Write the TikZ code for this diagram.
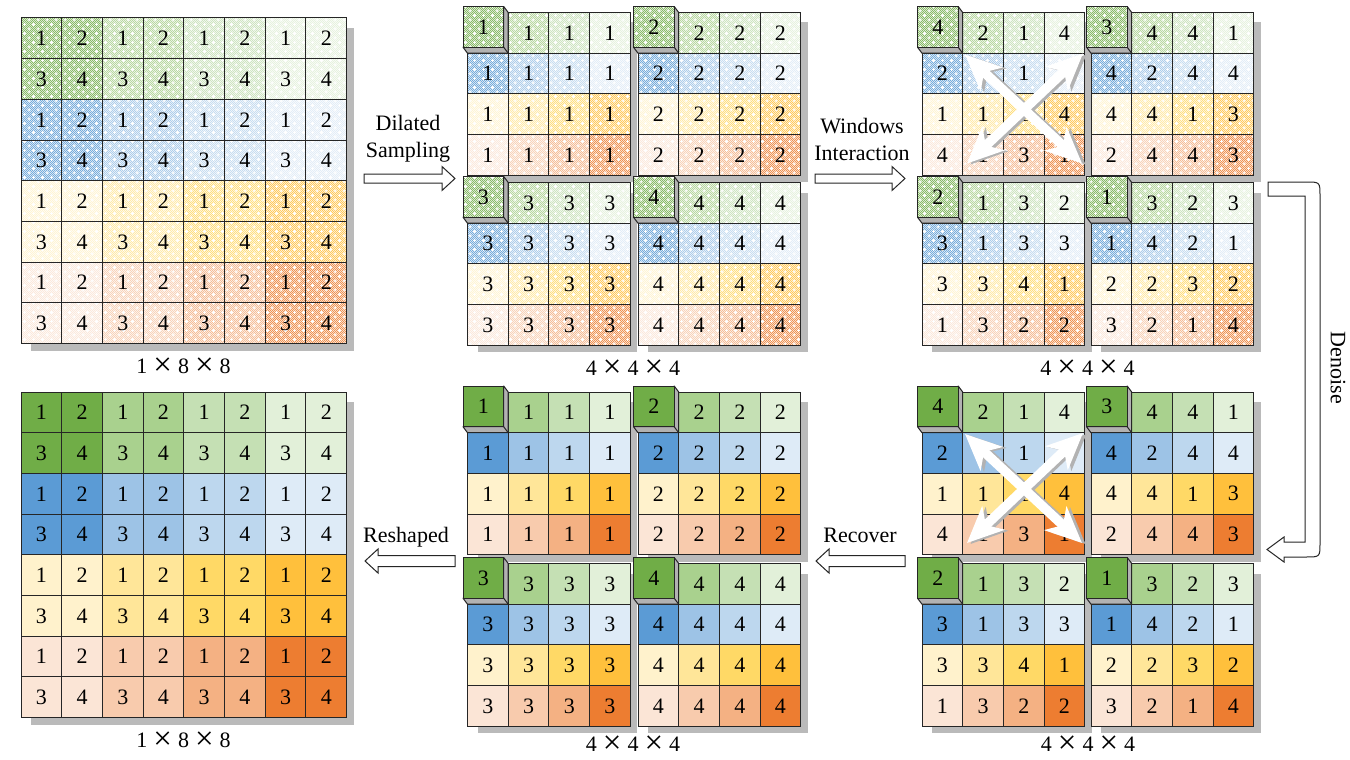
\documentclass[tikz,border=0pt]{standalone}
\usepackage{fontspec}
\setmainfont{Liberation Serif}
\usepackage{graphicx}
\usetikzlibrary{patterns,arrows.meta}

\definecolor{f1s1}{HTML}{70AD47}\definecolor{f1s2}{HTML}{A9D18E}\definecolor{f1s3}{HTML}{C5E0B4}\definecolor{f1s4}{HTML}{E2F0D9}
\definecolor{f2s1}{HTML}{5B9BD5}\definecolor{f2s2}{HTML}{9DC3E6}\definecolor{f2s3}{HTML}{BDD7EE}\definecolor{f2s4}{HTML}{DEEBF7}
\definecolor{f3s1}{HTML}{FFF2CC}\definecolor{f3s2}{HTML}{FFE699}\definecolor{f3s3}{HTML}{FFD966}\definecolor{f3s4}{HTML}{FFC03C}
\definecolor{f4s1}{HTML}{FBE5D6}\definecolor{f4s2}{HTML}{F8CBAD}\definecolor{f4s3}{HTML}{F4B183}\definecolor{f4s4}{HTML}{ED7D31}

\pgfdeclarepatternformonly{checkfine}{\pgfpoint{-0.1pt}{-0.1pt}}{\pgfpoint{2.1pt}{2.1pt}}{\pgfpoint{2pt}{2pt}}{%
  \pgfpathrectangle{\pgfpointorigin}{\pgfpoint{1pt}{1pt}}%
  \pgfpathrectangle{\pgfpoint{1pt}{1pt}}{\pgfpoint{1pt}{1pt}}%
  \pgfusepath{fill}}
\pgfdeclarepatternformonly{specks}{\pgfpoint{-0.1pt}{-0.1pt}}{\pgfpoint{9.1pt}{9.1pt}}{\pgfpoint{9pt}{9pt}}{%
  \pgfpathrectangle{\pgfpoint{0.5pt}{1.5pt}}{\pgfpoint{3pt}{1pt}}%
  \pgfpathrectangle{\pgfpoint{1.5pt}{0.5pt}}{\pgfpoint{1pt}{3pt}}%
  \pgfpathrectangle{\pgfpoint{5pt}{6pt}}{\pgfpoint{3pt}{1pt}}%
  \pgfpathrectangle{\pgfpoint{6pt}{5pt}}{\pgfpoint{1pt}{3pt}}%
  \pgfusepath{fill}}

\newcommand\cellw{40.7}
\newcommand\tms{\hspace{6pt}\raisebox{-2.8pt}{\scalebox{1.5}{×}}\hspace{6pt}}

\tikzset{
  gridline/.style={draw=black!85, line width=1pt},
  shadowbox/.style={fill=black!27},
  cubeside/.style={fill=black!30, draw=black!85, line width=1pt, line join=round},
  num/.style={font=\fontsize{22}{26}\selectfont, inner sep=0pt},
  lab/.style={font=\fontsize{22}{27}\selectfont, align=center, inner sep=0pt},
  dimlab/.style={font=\fontsize{22}{27}\selectfont, inner sep=0pt, anchor=base},
  blockarrow/.style={draw=black!85, fill=white, line width=1pt, line join=miter},
  xarr/.style={line width=9.5pt, {Stealth[length=36pt,width=32pt,inset=10pt]}-{Stealth[length=36pt,width=32pt,inset=10pt]}},
}

% noisy overlay for a cell: colour name, corner
\newcommand\noisecell[2]{%
  \fill[pattern=checkfine, pattern color=#1!25!white] #2 rectangle ++(\cellw,\cellw);
  \fill[pattern=specks, pattern color=white] #2 rectangle ++(\cellw,\cellw);}

% window: name, x, y, noisy, 16 numbers
\newcommand\win[5]{%
  \fill[shadowbox] (#2+10,#3+10) rectangle (#2+4*\cellw+7,#3+4*\cellw+7);
  \foreach \n [count=\i from 0] in {#5} {%
    \pgfmathtruncatemacro\rowi{div(\i,4)+1}%
    \pgfmathtruncatemacro\coli{mod(\i,4)+1}%
    \edef\cname{f\rowi s\coli}%
    \ifnum\i=0 \xdef\firstnum{\n}\fi
    \ifnum\i>0
      \fill[fill=\cname] (#2+\coli*\cellw-\cellw,#3+\rowi*\cellw-\cellw) rectangle ++(\cellw,\cellw);
      \ifnum#4=1 \noisecell{\cname}{(#2+\coli*\cellw-\cellw,#3+\rowi*\cellw-\cellw)}\fi
      \node[num] (#1-\i) at (#2+\coli*\cellw-0.5*\cellw,#3+\rowi*\cellw-0.5*\cellw) {\n};
    \fi
  }%
  \foreach \i in {1,...,15} {%
    \pgfmathtruncatemacro\rowi{div(\i,4)+1}%
    \pgfmathtruncatemacro\coli{mod(\i,4)+1}%
    \draw[gridline] (#2+\coli*\cellw-\cellw,#3+\rowi*\cellw-\cellw) rectangle ++(\cellw,\cellw);
  }%
  \filldraw[cubeside] (#2+\cellw-4.5,#3-6) -- (#2+\cellw,#3) -- (#2+\cellw,#3+\cellw) -- (#2,#3+\cellw) -- (#2-4.5,#3+\cellw-6) -- (#2+\cellw-4.5,#3+\cellw-6) -- cycle;
  \draw[gridline] (#2+\cellw-4.5,#3+\cellw-6) -- (#2+\cellw,#3+\cellw);
  \fill[f1s1] (#2-4.5,#3-6) rectangle ++(\cellw,\cellw);
  \ifnum#4=1 \noisecell{f1s1}{(#2-4.5,#3-6)}\fi
  \draw[gridline] (#2-4.5,#3-6) rectangle ++(\cellw,\cellw);
  \node[num] (#1-0) at (#2-4.5+0.5*\cellw,#3-6+0.5*\cellw) {\firstnum};
}

% big grid: name, x, y, noisy
\newcommand\biggrid[4]{%
  \fill[shadowbox] (#2+10,#3+10) rectangle (#2+8*\cellw+7,#3+8*\cellw+7);
  \foreach \rowi in {1,...,8} {\foreach \coli in {1,...,8} {%
    \pgfmathtruncatemacro\famx{div(\rowi-1,2)+1}%
    \pgfmathtruncatemacro\shdx{div(\coli-1,2)+1}%
    \pgfmathtruncatemacro\numx{2*mod(\rowi-1,2)+mod(\coli-1,2)+1}%
    \pgfmathtruncatemacro\idx{(\rowi-1)*8+\coli}%
    \edef\cname{f\famx s\shdx}%
    \fill[fill=\cname] (#2+\coli*\cellw-\cellw,#3+\rowi*\cellw-\cellw) rectangle ++(\cellw,\cellw);
    \ifnum#4=1 \noisecell{\cname}{(#2+\coli*\cellw-\cellw,#3+\rowi*\cellw-\cellw)}\fi
    \node[num] (#1-\idx) at (#2+\coli*\cellw-0.5*\cellw,#3+\rowi*\cellw-0.5*\cellw) {\numx};
  }}%
  \foreach \rowi in {1,...,8} {\foreach \coli in {1,...,8} {%
    \draw[gridline] (#2+\coli*\cellw-\cellw,#3+\rowi*\cellw-\cellw) rectangle ++(\cellw,\cellw);
  }}%
}

% right block arrow: x0, yc, length, half shaft
\newcommand\rarrow[4]{%
  \filldraw[blockarrow] (#1,#2-#4) -- (#1+#3-13,#2-#4) -- (#1+#3-13,#2-12) -- (#1+#3,#2) -- (#1+#3-13,#2+12) -- (#1+#3-13,#2+#4) -- (#1,#2+#4) -- cycle;}
% left block arrow: tip x0, yc, length, half shaft
\newcommand\larrow[4]{%
  \filldraw[blockarrow] (#1+#3,#2-#4) -- (#1+13,#2-#4) -- (#1+13,#2-12) -- (#1,#2) -- (#1+13,#2+12) -- (#1+13,#2+#4) -- (#1+#3,#2+#4) -- cycle;}

\newcommand\xarrows[2]{%
  \begin{scope}[shift={(#1+3.5,#2+1)}]
    \draw[xarr, black!30] (43,42) -- (160,151);
    \draw[xarr, black!30] (161,41) -- (45,151);
  \end{scope}
  \begin{scope}[shift={(#1,#2)}]
    \draw[xarr, white] (43,42) -- (160,151);
    \draw[xarr, white] (161,41) -- (45,151);
  \end{scope}}

\begin{document}
\begin{tikzpicture}[x=1pt,y=-1pt]
\fill[white] (0,0) rectangle (1350,760);
\useasboundingbox (0,0) rectangle (1350,760);

% big grids
\biggrid{tl}{21}{18}{1}
\biggrid{bl}{21}{392}{0}

% top middle (dilated sampling)
\win{tma}{467.5}{12.5}{1}{1,1,1,1,1,1,1,1,1,1,1,1,1,1,1,1}
\win{tmb}{638}{12.5}{1}{2,2,2,2,2,2,2,2,2,2,2,2,2,2,2,2}
\win{tmc}{467.5}{182.5}{1}{3,3,3,3,3,3,3,3,3,3,3,3,3,3,3,3}
\win{tmd}{638}{182.5}{1}{4,4,4,4,4,4,4,4,4,4,4,4,4,4,4,4}

% top right (windows interaction)
\win{tra}{922}{12.5}{1}{4,2,1,4,2,{},1,{},1,1,1,4,4,1,3,1}
\win{trb}{1091}{12.5}{1}{3,4,4,1,4,2,4,4,4,4,1,3,2,4,4,3}
\win{trc}{922}{182.5}{1}{2,1,3,2,3,1,3,3,3,3,4,1,1,3,2,2}
\win{trd}{1091}{182.5}{1}{1,3,2,3,1,4,2,1,2,2,3,2,3,2,1,4}
\xarrows{922}{12.5}

% bottom right (denoised)
\win{bra}{922}{392}{0}{4,2,1,4,2,{},1,{},1,1,1,4,4,1,3,1}
\win{brb}{1091}{392}{0}{3,4,4,1,4,2,4,4,4,4,1,3,2,4,4,3}
\win{brc}{922}{563.5}{0}{2,1,3,2,3,1,3,3,3,3,4,1,1,3,2,2}
\win{brd}{1091}{563.5}{0}{1,3,2,3,1,4,2,1,2,2,3,2,3,2,1,4}
\xarrows{922}{392}

% bottom middle (recovered)
\win{bma}{467.5}{392}{0}{1,1,1,1,1,1,1,1,1,1,1,1,1,1,1,1}
\win{bmb}{638}{392}{0}{2,2,2,2,2,2,2,2,2,2,2,2,2,2,2,2}
\win{bmc}{467.5}{563.5}{0}{3,3,3,3,3,3,3,3,3,3,3,3,3,3,3,3}
\win{bmd}{638}{563.5}{0}{4,4,4,4,4,4,4,4,4,4,4,4,4,4,4,4}

% block arrows
\rarrow{364}{178.5}{91}{4.5}
\rarrow{815}{178.5}{90}{4.5}
\larrow{816}{561}{89}{5.5}
\larrow{365}{561}{90}{5.5}
\filldraw[blockarrow] (1268,182) -- (1306,182) .. controls (1320,182) .. (1320,196) -- (1320,543) .. controls (1320,557) .. (1306,557) -- (1284,557) -- (1284,562) -- (1267,549.5) -- (1284,537) -- (1284,542) -- (1305,542) -- (1305,196) -- (1268,196) -- cycle;

% labels
\node[lab] (lds) at (408,139) {Dilated\\Sampling};
\node[lab] (lwi) at (862,139) {Windows\\Interaction};
\node[lab] (lrc) at (860,535.5) {Recover};
\node[lab] (lrs) at (406,537.5) {Reshaped};
\node[lab, rotate=-90] (ldn) at (1338,368) {Denoise};

\node[dimlab] (dtl) at (183.5,373) {1\tms 8\tms 8};
\node[dimlab] (dtm) at (633,375) {4\tms 4\tms 4};
\node[dimlab] (dtr) at (1087.5,375) {4\tms 4\tms 4};
\node[dimlab] (dbl) at (183.5,747) {1\tms 8\tms 8};
\node[dimlab] (dbm) at (633,751) {4\tms 4\tms 4};
\node[dimlab] (dbr) at (1088,751) {4\tms 4\tms 4};
\end{tikzpicture}
\end{document}
